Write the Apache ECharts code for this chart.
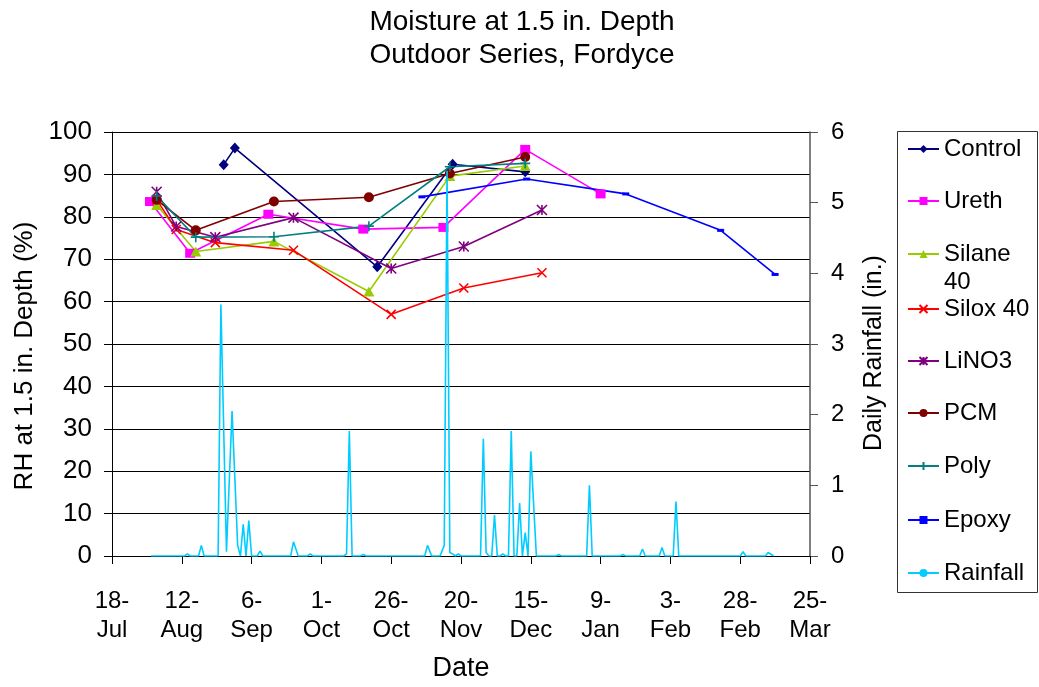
<!DOCTYPE html>
<html>
<head>
<meta charset="utf-8">
<script src="https://cdn.jsdelivr.net/npm/echarts@6/dist/echarts.min.js"></script>
<style>
  html, body { margin: 0; padding: 0; background: #fff; }
  #chart { width: 1039px; height: 687px; }
</style>
</head>
<body>
<div id="chart"></div>
<script>
// Day offsets are counted from 18-Jul; ticks every 25 days.
const tickLabels = ['18-\nJul', '12-\nAug', '6-\nSep', '1-\nOct', '26-\nOct', '20-\nNov',
                    '15-\nDec', '9-\nJan', '3-\nFeb', '28-\nFeb', '25-\nMar'];

// Relative humidity readings [day, RH %]
const control  = [[40, 92.3], [44, 96.2], [95, 68.2], [122, 92.4], [148, 90.6]];
const ureth    = [[13.6, 83.6], [28, 71.4], [56, 80.6], [90, 77.1], [118.7, 77.5], [148, 95.9], [175, 85.4]];
const silane40 = [[16, 82.8], [30, 71.8], [58, 74.2], [92, 62.4], [121, 89.6], [148, 92.0]];
const silox40  = [[16, 84.0], [23, 77.0], [37, 73.9], [65, 72.1], [100, 57.0], [126, 63.2], [154, 66.8]];
const lino3    = [[16, 85.9], [23, 77.7], [37, 75.2], [65, 79.8], [100, 67.8], [126, 73.0], [154, 81.6]];
const pcm      = [[16, 84.0], [30, 76.8], [58, 83.6], [92, 84.6], [121, 90.2], [148, 94.1]];
const poly     = [[16, 84.9], [30, 75.2], [58, 75.3], [92, 77.8], [121, 91.8], [148, 92.6]];
const epoxy    = [[111, 84.7], [148.5, 88.9], [184, 85.4], [218, 76.8], [237.5, 66.4]];

// Daily rainfall [day, inches]
const rainfall = [
  [14, 0], [26, 0], [27, 0.03], [28, 0], [31, 0], [32, 0.15], [33, 0],
  [38, 0], [39, 3.56], [41, 0.06], [43, 2.05], [45, 0.15], [46, 0], [47, 0.45], [48, 0],
  [49, 0.5], [50, 0], [52, 0], [53, 0.07], [54, 0], [64, 0], [65, 0.2], [66.7, 0],
  [70, 0], [71, 0.03], [72, 0], [83, 0], [84, 0.03], [85, 1.77], [86, 0],
  [89, 0], [90, 0.02], [91, 0], [112, 0], [113, 0.15], [114.5, 0], [117.5, 0],
  [119, 0.15], [120, 5.45], [121, 0.05], [122, 0.03], [123, 0], [124, 0.03], [125, 0],
  [132, 0], [133, 1.66], [134, 0.05], [135, 0], [136, 0], [137, 0.58], [138, 0],
  [139, 0], [140, 0.03], [141, 0], [142, 0], [143, 1.77], [144, 0], [145, 0],
  [146, 0.75], [147, 0], [148, 0.33], [149, 0], [150, 1.48], [152, 0],
  [159, 0], [160, 0.02], [161, 0], [170, 0], [171, 1.0], [172, 0],
  [182, 0], [183, 0.02], [184, 0], [189, 0], [190, 0.1], [191, 0],
  [196, 0], [197, 0.12], [198, 0], [201, 0], [202, 0.77], [203, 0],
  [225, 0], [226, 0.06], [227, 0], [234, 0], [235, 0.05], [237, 0]
];

const FONT = '"Liberation Sans", Arial, sans-serif';

const symX = 'path://M0,0L10,10M10,0L0,10';
const symStar = 'path://M0,0L10,10M10,0L0,10M5,0L5,10';
const symPlus = 'path://M5,0L5,10M0,5L10,5';

function rhSeries(name, data, color, symbol, size) {
  return {
    name: name,
    type: 'line',
    data: data,
    symbol: symbol,
    symbolSize: size,
    showAllSymbol: true,
    lineStyle: { color: color, width: 1.6 },
    itemStyle: { color: color, borderColor: color, borderWidth: (symbol.indexOf('path') === 0 ? 1.6 : 0) },
    emphasis: { disabled: true }
  };
}

const series = [
  rhSeries('Control', control, '#000080', 'diamond', [10, 11]),
  rhSeries('Ureth', ureth, '#FF00FF', 'rect', [10, 9]),
  rhSeries('Silane 40', silane40, '#99CC00', 'triangle', [11, 10]),
  rhSeries('Silox 40', silox40, '#FF0000', symX, 9),
  rhSeries('LiNO3', lino3, '#800080', symStar, 10),
  rhSeries('PCM', pcm, '#800000', 'circle', 10),
  rhSeries('Poly', poly, '#008080', symPlus, 10),
  rhSeries('Epoxy', epoxy, '#0000FF', 'rect', [7, 3]),
  {
    name: 'Rainfall',
    type: 'line',
    yAxisIndex: 1,
    data: rainfall,
    symbol: 'none',
    lineStyle: { color: '#00CCFF', width: 1.6 },
    itemStyle: { color: '#00CCFF' },
    z: 5,
    emphasis: { disabled: true }
  }
];

// One legend block per entry, stacked in a bordered box
const legendNames = ['Control', 'Ureth', 'Silane 40', 'Silox 40', 'LiNO3', 'PCM', 'Poly', 'Epoxy', 'Rainfall'];
const legendY = [149, 201, 254, 309, 361, 413, 466, 520, 573];
const legends = legendNames.map(function (n, i) {
  return {
    data: [n],
    orient: 'vertical',
    left: 907,
    top: legendY[i] - 12,
    padding: 0,
    itemWidth: 31,
    itemHeight: 10,
    selectedMode: false,
    // the long entry wraps; its second line is set as separate text below
    formatter: n === 'Silane 40' ? 'Silane' : '{name}',
    textStyle: { fontFamily: FONT, fontSize: 24, color: '#000', lineHeight: 24 }
  };
});

const chart = echarts.init(document.getElementById('chart'), null, { renderer: 'canvas' });
chart.setOption({
  animation: false,
  backgroundColor: '#fff',
  title: {
    text: 'Moisture at 1.5 in. Depth\nOutdoor Series, Fordyce',
    left: 517,
    top: 1,
    textAlign: 'center',
    textStyle: { fontFamily: FONT, fontSize: 28, fontWeight: 'normal', color: '#000', lineHeight: 33 }
  },
  legend: legends,
  graphic: [{
    type: 'rect',
    shape: { x: 897.5, y: 131.5, width: 140, height: 461 },
    style: { fill: 'none', stroke: '#333', lineWidth: 1 },
    silent: true
  }, {
    type: 'text',
    left: 944,
    top: 270,
    style: { text: '40', fontFamily: FONT, fontSize: 24, fill: '#000' },
    silent: true
  }],
  grid: { left: 112, right: 229, top: 132, bottom: 129 },
  xAxis: {
    type: 'value',
    min: 0,
    max: 250,
    interval: 25,
    name: 'Date',
    nameLocation: 'middle',
    nameGap: 99,
    nameTextStyle: { fontFamily: FONT, fontSize: 27, color: '#000' },
    axisLine: { onZero: false, lineStyle: { color: '#000', width: 1 } },
    axisTick: { show: true, length: 8, lineStyle: { color: '#000' } },
    splitLine: { show: false },
    axisLabel: {
      fontFamily: FONT, fontSize: 24, color: '#000', lineHeight: 29, margin: 31,
      formatter: function (v) { return tickLabels[Math.round(v / 25)]; }
    }
  },
  yAxis: [{
    type: 'value',
    min: 0,
    max: 100,
    interval: 10,
    name: 'RH at 1.5 in. Depth (%)',
    nameLocation: 'middle',
    nameGap: 68,
    nameTextStyle: { fontFamily: FONT, fontSize: 26, color: '#000', padding: [0, 24, 0, 0] },
    axisLine: { show: true, lineStyle: { color: '#000', width: 1 } },
    axisTick: { show: true, length: 8, lineStyle: { color: '#000' } },
    splitLine: { show: true, lineStyle: { color: '#000', width: 1 } },
    axisLabel: { fontFamily: FONT, fontSize: 26, color: '#000', margin: 20 }
  }, {
    type: 'value',
    min: 0,
    max: 6,
    interval: 1,
    position: 'right',
    name: 'Daily Rainfall (in.)',
    nameLocation: 'middle',
    nameGap: 52,
    nameTextStyle: { fontFamily: FONT, fontSize: 25, color: '#000', padding: [0, 18, 0, 0] },
    axisLine: { show: true, lineStyle: { color: '#555', width: 1.5 } },
    axisTick: { show: true, length: 8, lineStyle: { color: '#555' } },
    splitLine: { show: false },
    axisLabel: { fontFamily: FONT, fontSize: 24, color: '#000', margin: 21 }
  }],
  series: series
});
</script>
</body>
</html>
